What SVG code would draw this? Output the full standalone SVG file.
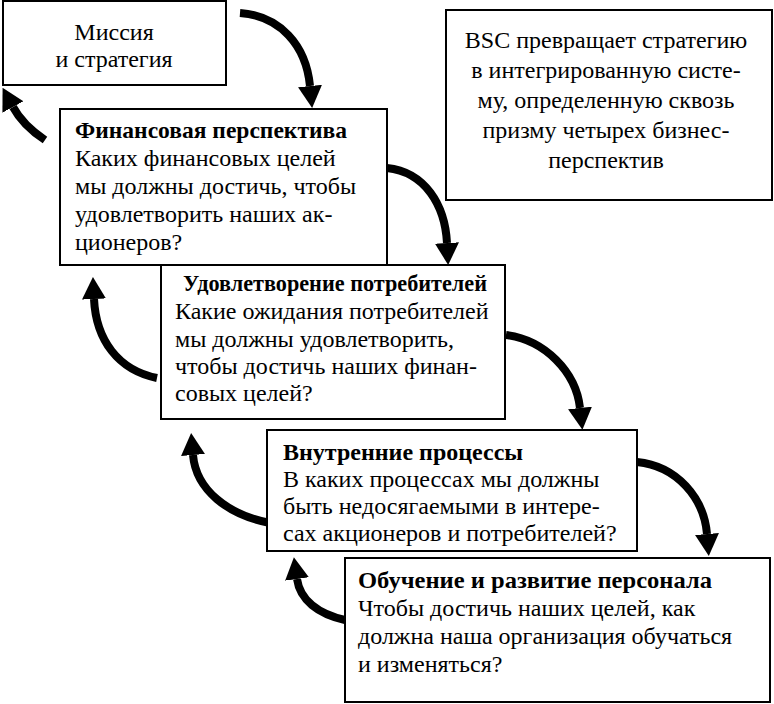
<svg xmlns="http://www.w3.org/2000/svg" width="774" height="704" viewBox="0 0 774 704">
<defs>
<style>
.box{fill:#fff;stroke:#000;stroke-width:2}
.t{font-family:"Liberation Serif","Times New Roman",serif;font-size:24px;fill:#000}
.b{font-weight:bold}
.c{text-anchor:middle}
.arr{fill:none;stroke:#000;stroke-width:8;marker-end:url(#head)}
</style>
<marker id="head" markerUnits="userSpaceOnUse" viewBox="0 -12 22 24" refX="0" refY="0" markerWidth="22" markerHeight="24" orient="auto">
<path d="M0,-12 L22,0 L0,12 Z" fill="#000"/>
</marker>
</defs>
<rect width="774" height="704" fill="#fff"/>
<g id="connectors">
<path class="arr" d="M240 13 C280 16 306 45 310 86"/>
<path class="arr" d="M387 168 C425 172 445 205 447 243"/>
<path class="arr" d="M506 335 C545 340 576 372 580 408"/>
<path class="arr" d="M637 462 C677 466 704 498 707 534"/>
<path class="arr" d="M45 140 C33 132 20 120 13 107"/>
<path class="arr" d="M157 378 C118 370 96 340 94 299"/>
<path class="arr" d="M270 523 C228 515 196 490 193 455"/>
<path class="arr" d="M345 620 C318 614 300 600 297 579"/>
</g>
<g id="mission">
<rect class="box" x="3" y="1" width="223" height="84"/>
<text class="t c" x="114" y="40">Миссия</text>
<text class="t c" x="114" y="67">и стратегия</text>
</g>
<g id="bsc">
<rect class="box" x="446" y="10" width="326" height="190"/>
<text class="t c" x="606" y="48">BSC превращает стратегию</text>
<text class="t c" x="606" y="78">в интегрированную систе-</text>
<text class="t c" x="606" y="108">му, определенную сквозь</text>
<text class="t c" x="606" y="138">призму четырех бизнес-</text>
<text class="t c" x="606" y="168">перспектив</text>
</g>
<g id="financial">
<rect class="box" x="60" y="109" width="327" height="156"/>
<text class="t b" x="75" y="138" textLength="272" lengthAdjust="spacingAndGlyphs">Финансовая перспектива</text>
<text class="t" x="75" y="166">Каких финансовых целей</text>
<text class="t" x="75" y="194">мы должны достичь, чтобы</text>
<text class="t" x="75" y="222">удовлетворить наших ак-</text>
<text class="t" x="75" y="250">ционеров?</text>
</g>
<g id="customers">
<rect class="box" x="161" y="265" width="344" height="154"/>
<text class="t b" x="183" y="291" textLength="304" lengthAdjust="spacingAndGlyphs">Удовлетворение потребителей</text>
<text class="t" x="175" y="319">Какие ожидания потребителей</text>
<text class="t" x="175" y="347">мы должны удовлетворить,</text>
<text class="t" x="175" y="374">чтобы достичь наших финан-</text>
<text class="t" x="175" y="401">совых целей?</text>
</g>
<g id="processes">
<rect class="box" x="267" y="430" width="370" height="121"/>
<text class="t b" x="283" y="460">Внутренние процессы</text>
<text class="t" x="283" y="487">В каких процессах мы должны</text>
<text class="t" x="283" y="514">быть недосягаемыми в интере-</text>
<text class="t" x="283" y="541">сах акционеров и потребителей?</text>
</g>
<g id="learning">
<rect class="box" x="345" y="558" width="425" height="144"/>
<text class="t b" x="358" y="588" textLength="354" lengthAdjust="spacingAndGlyphs">Обучение и развитие персонала</text>
<text class="t" x="358" y="616">Чтобы достичь наших целей, как</text>
<text class="t" x="358" y="644">должна наша организация обучаться</text>
<text class="t" x="358" y="672">и изменяться?</text>
</g>
</svg>
